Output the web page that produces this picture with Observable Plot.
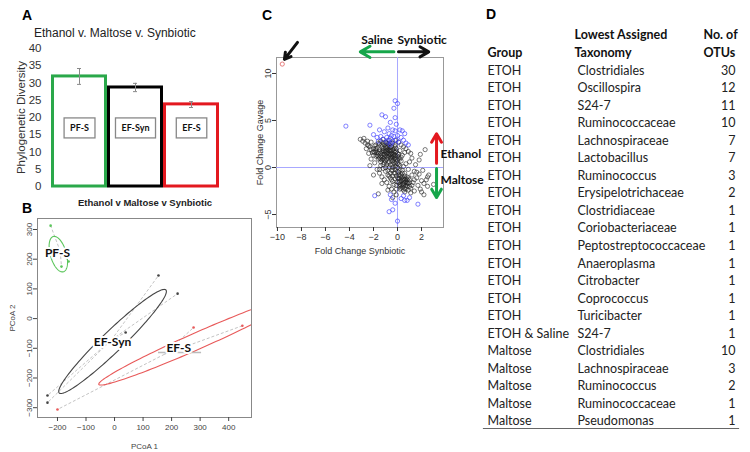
<!DOCTYPE html>
<html>
<head>
<meta charset="utf-8">
<script src="https://cdn.jsdelivr.net/npm/d3@7"></script>
<script src="https://cdn.jsdelivr.net/npm/@observablehq/plot@0.6"></script>
<style>
  html, body { margin: 0; padding: 0; background: #fff; }
  #root { position: relative; width: 750px; height: 452px; background: #fff; overflow: hidden; font-family: "Liberation Sans", Arial, sans-serif; }
  .abs { position: absolute; }
  .plabel { font: bold 14px "Liberation Sans", Arial, sans-serif; color: #000; line-height: 14px; }
  svg { overflow: visible; }
</style>
</head>
<body>
<div id="root">
  <div class="abs plabel" style="left:22px;top:8px;">A</div>
  <div class="abs plabel" style="left:22px;top:201px;">B</div>
  <div class="abs plabel" style="left:262px;top:8px;">C</div>
  <div class="abs plabel" style="left:486px;top:7px;">D</div>
  <div class="abs" style="left:34px;top:26px;font-size:12px;color:#222;">Ethanol v. Maltose v. Synbiotic</div>
  <div class="abs" style="left:78px;top:197px;font-size:9.5px;font-weight:bold;color:#222;">Ethanol v Maltose v Synbiotic</div>
  <div id="pA" class="abs" style="left:0;top:40px;"></div>
  <div id="pB" class="abs" style="left:0;top:195px;"></div>
  <div id="pC" class="abs" style="left:250px;top:20px;"></div>
  <div id="pD" class="abs" style="left:480px;top:20px;"></div>
</div>
<script>
// ---------- Panel A: phylogenetic diversity ----------
const groupsA = ["PF-S", "EF-Syn", "EF-S"];
const diversity = [31.9, 28.7, 23.8];
const errLow = [29.6, 27.5, 22.9];
const errHigh = [34.2, 29.9, 24.6];
const groupColors = ["#2aa84a", "#000000", "#e3181f"];
const ticksA = [0, 5, 10, 15, 20, 25, 30, 35, 40];

// ---------- Panel B: PCoA ----------
const pcoaGroup = ["PF-S", "PF-S", "PF-S", "EF-Syn", "EF-Syn", "EF-Syn", "EF-Syn", "EF-Syn", "EF-S", "EF-S", "EF-S"];
const pcoa1 = [-224, -161, -186, 154, 221, 39, -235, -235, 277, 448, -200];
const pcoa2 = [313, 192, 175, 145, 84, -47, -259, -283, -30, -24, -306];
const ellipseGroup = ["PF-S", "EF-Syn", "EF-S"];
const ellipseCx = [-197, -7, 290];
const ellipseCy = [217, -77, -75];
const ellipseA = [62, 255, 375];
const ellipseB = [28, 36, 28];
const ellipseAngle = [-73, 42.8, 23];
const pcoaColors = {"PF-S": "#5cc65c", "EF-Syn": "#444444", "EF-S": "#e85a5a"};
const pcoaLabelText = ["PF-S", "EF-Syn", "EF-S"];
const pcoaLabelX = [-200, -7, 225];
const pcoaLabelY = [219, -81, -98];
const ticksB1 = [-200, -100, 0, 100, 200, 300, 400];
const ticksB2 = [-300, -200, -100, 0, 100, 200, 300];

// ---------- Panel C: fold change scatter ----------
const nsPoints = [
[-3.1,3.0],[-2.9,2.8],[-2.7,2.6],[-2.8,3.1],[-2.5,2.4],[-2.3,2.2],[-2.2,2.7],[-2.0,2.0],[-2.1,1.6],[-1.9,2.3],
[-1.8,1.8],[-1.7,2.1],[-1.6,1.5],[-1.5,2.5],[-1.5,1.9],[-1.4,1.2],[-1.3,2.2],[-1.3,1.7],[-1.2,1.4],[-1.2,2.0],
[-1.1,1.1],[-1.1,2.4],[-1.0,1.8],[-1.0,1.3],[-0.9,2.1],[-0.9,0.9],[-0.8,1.6],[-0.8,2.5],[-0.7,1.2],[-0.7,0.6],
[-0.6,1.9],[-0.6,1.4],[-0.5,0.8],[-0.5,2.2],[-0.4,1.1],[-0.4,0.3],[-0.3,1.7],[-0.3,0.5],[-0.2,1.3],[-0.2,-0.2],
[-0.1,0.9],[-0.1,2.0],[0.0,0.4],[0.0,1.5],[0.1,-0.5],[0.1,1.0],[0.2,0.2],[0.2,1.8],[0.3,-0.8],[0.3,0.7],
[0.4,-0.3],[0.4,1.3],[0.5,-1.2],[0.5,0.1],[0.6,-0.6],[0.6,1.6],[0.7,-1.5],[0.7,0.4],[0.8,-1.0],[0.8,-2.0],
[0.9,-0.2],[0.9,-1.7],[1.0,0.6],[1.0,-1.3],[1.1,-2.2],[1.2,-0.8],[1.2,1.0],[1.3,-1.6],[1.4,-0.4],[1.4,-2.5],
[1.5,0.3],[1.6,-1.1],[1.7,-1.9],[1.8,-0.7],[1.8,0.8],[2.0,-2.6],[2.0,-1.4],[2.1,-0.3],[2.2,-2.9],[2.5,-1.0],
[2.5,-2.0],[2.6,-0.8],[3.0,-1.8],[2.3,1.9],[1.9,1.4],
[-1.8,1.2],[-1.6,0.9],[-1.4,0.6],[-1.2,0.3],[-1.0,0.0],[-0.8,-0.3],[-0.6,-0.6],[-0.4,-0.9],[-0.2,-1.2],[0.0,-1.5],
[0.2,-1.8],[0.4,-2.1],[-1.9,0.5],[-1.7,-0.2],[-1.5,-0.6],[-1.3,-1.0],[-1.1,-1.3],[-0.9,-1.6],[-0.7,-2.0],[-0.5,-2.3],
[-0.3,-2.6],[-0.1,-2.9],[-2.2,0.9],[-2.4,1.5],[-2.6,2.0],[-2.0,1.3],[-1.6,2.6],[-1.4,2.8],[-1.2,3.0],[-1.0,2.7],
[-0.7,2.9],[-0.4,2.6],[-0.2,2.9],[0.1,2.7],[0.3,2.4],[0.5,2.2],[0.7,2.0],[0.9,1.7],[1.1,1.5],[-0.9,0.3],
[-0.7,0.0],[-0.5,-0.3],[-0.3,-0.6],[-0.1,-0.9],[0.1,-1.2],[0.3,-1.4],[0.5,-1.7],[0.7,-1.9],[0.9,-2.4],[1.1,-2.7],
[0.6,-2.6],[0.2,-2.3],[-0.1,-1.9],[-0.4,-1.5],[-0.6,-1.1],[-0.8,-0.8],[-1.0,-0.4],[-1.2,-0.1],[-1.4,0.2],[-0.9,1.5],
[-0.7,1.8],[-0.5,1.5],[-0.3,1.2],[-0.1,0.6],[0.1,0.3],[-0.6,1.0],[-0.4,0.7],[-0.2,0.4],[0.0,0.0],[0.2,-0.3],
[0.4,-0.6],[0.6,-0.9],[0.8,-1.3],[1.0,-1.6],[1.2,-1.9],[1.4,-1.3],[1.6,-0.5],[0.3,-1.1],[0.5,-1.4],[0.7,-1.2],
[0.4,-1.8],[0.6,-2.2],[0.2,-2.0],[-1.5,1.0],[-1.3,0.8],[-1.1,0.5],[-1.7,1.6],[-2.0,1.7],[-1.8,2.4],[-2.4,2.3],
[-0.9,2.3],[-1.1,1.7],[-0.8,1.1],[-0.5,1.2],[-0.3,0.9],[-0.2,1.6],[0.0,1.2],[0.2,0.9],[-1.5,-0.2],[-2.0,-0.8],
[-1.3,-1.7],[-1.6,-2.8],[-0.8,-2.4],[-0.4,-3.2],[2.2,-1.7],[1.9,-2.3],[2.4,-1.3],[-2.3,0.2],[-0.6,2.6],
[-1.0,1.6],[-0.8,1.9],[-0.6,1.7],[-0.4,1.9],[-0.2,2.2],[-0.5,1.0],[-0.7,1.4],[-0.9,1.2],[-1.1,0.8],[-0.3,1.4],
[0.1,-0.8],[0.3,-1.9],[0.5,-2.4],[0.2,-1.5],[0.6,-1.6],[0.8,-1.7],[0.4,-1.3],[0.0,-1.1],[-0.2,-0.6],[-0.4,0.0],
[-1.6,1.2],[-1.4,1.5],[-1.2,1.8],[-1.0,2.1],[-0.8,2.2],[-0.6,2.1],[-0.4,1.4],[-0.2,1.0],[0.0,0.8],[-1.3,1.1],
[-1.1,1.4],[-0.9,1.8],[-0.7,2.4],[-0.5,1.8],[-0.3,2.0],[-0.1,1.7],[0.1,1.4],[0.3,1.1],[-1.5,1.7],[-1.7,1.3],
[-1.9,1.6],[-1.2,2.6],[-0.8,0.5],[-0.6,0.3],[-0.4,-0.3],[-0.2,0.1],[0.0,-0.4],[0.2,-0.9],[0.4,-1.0],[0.6,-1.3],
[0.8,-1.6],[0.5,-1.9],[0.3,-2.2],[0.1,-1.6],[0.7,-2.3],[1.0,-2.0],[0.9,-1.1],[-0.1,-2.3],[-0.3,-1.8],[-0.5,-1.3],
[-0.7,-0.9],[-1.0,0.7],[-1.2,0.9],[-1.4,0.9],[-0.9,2.6],[-1.3,2.4],[-1.8,2.0],[-2.2,1.9],[-2.5,2.8],[-0.2,2.4]
];
const sigPoints = [
[-4.3,4.4],[-2.3,4.5],[-2.0,3.5],[-1.7,3.2],[-1.5,4.0],[-1.3,5.6],[-1.2,3.0],[-1.1,3.8],[-1.0,5.4],[-0.9,3.2],
[-0.8,4.2],[-0.8,2.9],[-0.7,3.6],[-0.6,3.1],[-0.6,4.8],[-0.5,3.4],[-0.4,2.8],[-0.4,4.0],[-0.3,3.3],[-0.3,6.3],
[-0.2,7.1],[-0.2,3.9],[-0.1,2.9],[-0.1,4.6],[0.0,6.8],[0.0,3.4],[0.1,2.7],[0.2,4.0],[0.3,3.2],[0.4,3.9],
[0.5,2.9],[0.6,3.6],[0.7,2.6],[-0.9,2.7],[-1.4,3.3],[-0.2,5.3],[-1.6,2.8],[-0.5,2.6],[0.9,2.4],[-0.6,2.4],
[-1.9,-3.0],[-0.6,-2.9],[-0.5,-3.4],[-0.7,-4.7],[-0.4,-4.5],[0.0,-5.7],[0.3,-3.3],[0.6,-3.5],[0.8,-3.5],[1.0,-3.2],
[1.7,-3.9],[0.5,-3.0],[-0.2,-3.8]
];
const outlierPoints = [[-9.6, 11.0]];
const ticksCx = [-10, -8, -6, -4, -2, 0, 2];
const ticksCy = [-5, 0, 5, 10];
const arrowNames = ["pointer", "Saline", "Synbiotic", "Ethanol", "Maltose"];
const arrowX1 = [-8.33, -0.3, 0.08, 3.25, 3.25];
const arrowY1 = [13.3, 12.3, 12.3, 0.45, -0.1];
const arrowX2 = [-9.42, -3.1, 2.6, 3.25, 3.25];
const arrowY2 = [11.5, 12.3, 12.3, 3.6, -3.2];
const arrowColors = ["#111111", "#16a64a", "#111111", "#e3181f", "#16a64a"];
const annText = ["Saline", "Synbiotic", "Ethanol", "Maltose"];
const annX = [-1.7, 2.05, 3.58, 3.58];
const annY = [13.5, 13.5, 1.38, -1.3];
const annAnchor = ["middle", "middle", "start", "start"];

// ---------- Panel D: table ----------
const tableGroup = ["ETOH","ETOH","ETOH","ETOH","ETOH","ETOH","ETOH","ETOH","ETOH","ETOH","ETOH","ETOH","ETOH","ETOH","ETOH","ETOH & Saline","Maltose","Maltose","Maltose","Maltose","Maltose"];
const tableTaxonomy = ["Clostridiales","Oscillospira","S24-7","Ruminococcaceae","Lachnospiraceae","Lactobacillus","Ruminococcus","Erysipelotrichaceae","Clostridiaceae","Coriobacteriaceae","Peptostreptococcaceae","Anaeroplasma","Citrobacter","Coprococcus","Turicibacter","S24-7","Clostridiales","Lachnospiraceae","Ruminococcus","Ruminococcaceae","Pseudomonas"];
const tableOTUs = [30,12,11,10,7,7,3,2,1,1,1,1,1,1,1,1,10,3,2,1,1];
const headerCol1 = ["Group"];
const headerCol2 = ["Lowest Assigned", "Taxonomy"];
const headerCol3 = ["No. of", "OTUs"];

// ================= Panel A =================
const dataA = groupsA.map((g, i) => ({g, v: diversity[i], lo: errLow[i], hi: errHigh[i], c: groupColors[i]}));
const plotA = Plot.plot({
  width: 250, height: 160,
  marginLeft: 50, marginRight: 31, marginTop: 8, marginBottom: 14,
  style: {fontFamily: "Liberation Sans, Arial, sans-serif", fontSize: "11px", color: "#333", background: "transparent"},
  x: {domain: groupsA, padding: 0, axis: null},
  y: {domain: [0, 40]},
  color: {type: "identity"},
  marks: [
    Plot.axisY({ticks: ticksA, tickSize: 0, tickPadding: 9, fontSize: 11.5, label: "Phylogenetic Diversity", labelAnchor: "center", labelArrow: "none", labelOffset: 34}),
    Plot.barY(dataA, {x: "g", y: "v", fill: "white", stroke: "c", strokeWidth: 3, insetLeft: 1.5, insetRight: 1.5}),
    Plot.ruleX(dataA, {x: "g", y1: "lo", y2: "hi", stroke: "#888", strokeWidth: 1}),
    Plot.tickY(dataA, {x: "g", y: "lo", stroke: "#888", insetLeft: 26, insetRight: 26}),
    Plot.tickY(dataA, {x: "g", y: "hi", stroke: "#888", insetLeft: 26, insetRight: 26}),
    Plot.text(dataA, {x: "g", y: 16.8, text: "g", fontWeight: "bold", fontSize: 9, fontFamily: "Lato, sans-serif", fill: "#111"})
  ]
});
document.getElementById("pA").appendChild(plotA);
// draw label boxes behind the bar labels
plotA.querySelectorAll('g[aria-label="text"] text').forEach(t => {
  const bb = t.getBBox();
  const r = document.createElementNS("http://www.w3.org/2000/svg", "rect");
  r.setAttribute("x", bb.x - 6); r.setAttribute("y", bb.y - 4.5);
  r.setAttribute("width", bb.width + 12); r.setAttribute("height", bb.height + 9);
  r.setAttribute("fill", "white"); r.setAttribute("stroke", "#888"); r.setAttribute("stroke-width", "1.3");
  if (t.getAttribute("transform")) r.setAttribute("transform", t.getAttribute("transform"));
  t.parentNode.insertBefore(r, t);
});

// ================= Panel B =================
const pointsB = pcoaGroup.map((g, i) => ({g, x: pcoa1[i], y: pcoa2[i]}));
const centroids = d3.rollup(pointsB, v => ({x: d3.mean(v, d => d.x), y: d3.mean(v, d => d.y)}), d => d.g);
const spokes = pointsB.map(p => ({g: p.g, x1: centroids.get(p.g).x, y1: centroids.get(p.g).y, x2: p.x, y2: p.y}));
const ellipsePts = [];
ellipseGroup.forEach((g, i) => {
  const th = ellipseAngle[i] * Math.PI / 180, c = Math.cos(th), s = Math.sin(th);
  for (let k = 0; k <= 160; k++) {
    const t = 2 * Math.PI * k / 160;
    const u = ellipseA[i] * Math.cos(t), v = ellipseB[i] * Math.sin(t);
    ellipsePts.push({g, x: ellipseCx[i] + u * c - v * s, y: ellipseCy[i] + u * s + v * c});
  }
});
const labelsB = pcoaLabelText.map((t, i) => ({t, x: pcoaLabelX[i], y: pcoaLabelY[i]}));
const plotB = Plot.plot({
  width: 260, height: 257,
  marginLeft: 37, marginRight: 9, marginTop: 23, marginBottom: 35,
  style: {fontFamily: "Liberation Sans, Arial, sans-serif", fontSize: "8px", color: "#444", background: "transparent"},
  x: {domain: [-270, 480]},
  y: {domain: [-333, 337]},
  marks: [
    Plot.frame({stroke: "#888"}),
    Plot.axisX({ticks: ticksB1, tickSize: 4, tickPadding: 3, fontSize: 8, label: "PCoA 1", labelAnchor: "center", labelArrow: "none", labelOffset: 31}),
    Plot.axisY({ticks: ticksB2, tickSize: 4, tickPadding: 2, tickRotate: -90, fontSize: 8, label: "PCoA 2", labelAnchor: "center", labelArrow: "none", labelOffset: 28}),
    Plot.link(spokes, {x1: "x1", y1: "y1", x2: "x2", y2: "y2", stroke: "#c4c4c4", strokeDasharray: "3,2", strokeWidth: 1}),
    Plot.line(ellipsePts, {x: "x", y: "y", z: "g", stroke: d => pcoaColors[d.g], strokeWidth: 1.1, clip: "frame"}),
    Plot.dot(pointsB, {x: "x", y: "y", r: 1.3, fill: d => pcoaColors[d.g], stroke: null}),
    Plot.ruleY([{x1: 154, x2: 305, y: -114}], {x1: "x1", x2: "x2", y: "y", stroke: "#bbb", strokeWidth: 1.5}),
    Plot.text(labelsB, {x: "x", y: "y", text: "t", fontWeight: "bold", fontSize: 12, fontFamily: "Lato, sans-serif", fill: "#111", stroke: "white", strokeWidth: 4, paintOrder: "stroke"})
  ]
});
document.getElementById("pB").appendChild(plotB);

// ================= Panel C =================
const arrowsC = arrowNames.map((n, i) => ({n, x1: arrowX1[i], y1: arrowY1[i], x2: arrowX2[i], y2: arrowY2[i], c: arrowColors[i]}));
const textC = annText.map((t, i) => ({t, x: annX[i], y: annY[i], a: annAnchor[i]}));
const plotC = Plot.plot({
  width: 240, height: 238,
  marginLeft: 26, marginRight: 47, marginTop: 37, marginBottom: 31,
  style: {fontFamily: "Liberation Sans, Arial, sans-serif", fontSize: "9px", color: "#333", background: "transparent"},
  x: {domain: [-10.08, 3.83]},
  y: {domain: [-6.38, 11.7]},
  color: {type: "identity"},
  marks: [
    Plot.frame({stroke: "#999"}),
    Plot.ruleX([0], {stroke: "#a8a8ff", strokeWidth: 1}),
    Plot.ruleY([0], {stroke: "#a8a8ff", strokeWidth: 1}),
    Plot.dot(nsPoints, {x: d => d[0], y: d => d[1], r: 2.1, stroke: "#222", strokeOpacity: 0.75, strokeWidth: 0.8}),
    Plot.dot(sigPoints, {x: d => d[0], y: d => d[1], r: 2.1, stroke: "#3c3cff", strokeOpacity: 0.8, strokeWidth: 0.8}),
    Plot.dot(outlierPoints, {x: d => d[0], y: d => d[1], r: 2.1, stroke: "#e06060", strokeWidth: 0.8}),
    Plot.axisX({ticks: ticksCx, tickSize: 4, tickPadding: 2, fontSize: 9, label: "Fold Change Synbiotic", labelAnchor: "center", labelArrow: "none", labelOffset: 26}),
    Plot.axisY({ticks: ticksCy, tickSize: 4, tickPadding: 2, tickRotate: -90, fontSize: 9, label: "Fold Change Gavage", labelAnchor: "center", labelArrow: "none", labelOffset: 20}),
    Plot.arrow(arrowsC, {x1: "x1", y1: "y1", x2: "x2", y2: "y2", stroke: "c", strokeWidth: 3, headLength: 8}),
    Plot.text(textC.filter(d => d.a === "middle"), {x: "x", y: "y", text: "t", textAnchor: "middle", fontWeight: "bold", fontSize: 12, fontFamily: "Lato, sans-serif", fill: "#111"}),
    Plot.text(textC.filter(d => d.a === "start"), {x: "x", y: "y", text: "t", textAnchor: "start", fontWeight: "bold", fontSize: 12, fontFamily: "Lato, sans-serif", fill: "#111"})
  ]
});
document.getElementById("pC").appendChild(plotC);

// ================= Panel D =================
const rowsD = tableGroup.map((g, i) => ({i, g, t: tableTaxonomy[i], n: tableOTUs[i]}));
const hdr1 = headerCol1.map((t, k) => ({t, i: -1}));
const hdr2 = headerCol2.map((t, k) => ({t, i: k - 2}));
const hdr3 = headerCol3.map((t, k) => ({t, i: k - 2}));
const plotD = Plot.plot({
  width: 270, height: 408,
  marginLeft: 3, marginRight: 12, marginTop: 0, marginBottom: 0,
  style: {fontFamily: "Lato, sans-serif", fontSize: "12.5px", color: "#222", background: "transparent"},
  x: {axis: null, domain: [0, 1]},
  y: {axis: null, domain: [20.4, -2.85]},
  marks: [
    Plot.frame({anchor: "bottom", stroke: "#666", strokeWidth: 1.2}),
    Plot.text(rowsD, {y: "i", text: "g", frameAnchor: "left", dx: 4, fill: "#222"}),
    Plot.text(rowsD, {y: "i", text: "t", frameAnchor: "left", dx: 94, fill: "#222"}),
    Plot.text(rowsD, {y: "i", text: d => String(d.n), frameAnchor: "right", dx: -3, fill: "#222"}),
    Plot.text(hdr1, {y: "i", text: "t", frameAnchor: "left", dx: 4, fontWeight: "bold", fill: "#111"}),
    Plot.text(hdr2, {y: "i", text: "t", frameAnchor: "left", dx: 91, fontWeight: "bold", fill: "#111"}),
    Plot.text(hdr3, {y: "i", text: "t", frameAnchor: "left", dx: 220, fontWeight: "bold", fill: "#111"})
  ]
});
document.getElementById("pD").appendChild(plotD);
</script>
</body>
</html>
